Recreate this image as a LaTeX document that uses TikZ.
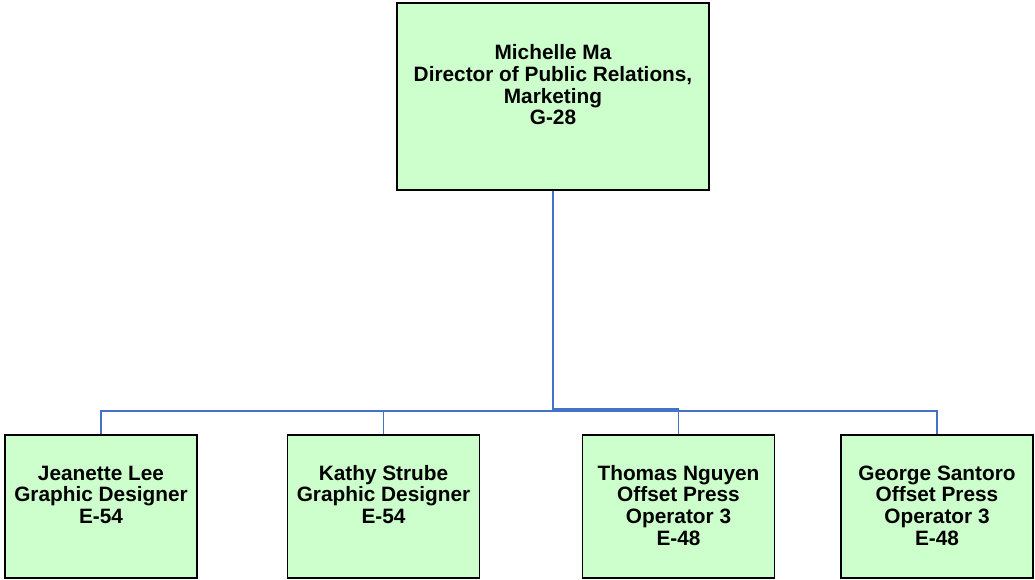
\documentclass[tikz,border=0pt]{standalone}
\usepackage{fontspec}
\setmainfont{Liberation Sans}
\usetikzlibrary{positioning}

\definecolor{postgreen}{RGB}{204,255,204}
\definecolor{linkblue}{RGB}{68,114,196}
\tikzset{
  post/.style={draw, line width=1.6pt, fill=postgreen, align=center, inner sep=0pt,
    font=\bfseries\fontsize{20.8}{21.8}\selectfont},
  small post/.style={post, minimum width=192pt},
  % base sits on the last line, so height and depth follow the line count
  three lines/.style={small post, text height=88.6pt, text depth=54.4pt},
  four lines/.style={small post, text height=110.4pt, text depth=32.6pt},
  link/.style={draw=linkblue, line width=1.8pt}
}

\begin{document}
\begin{tikzpicture}[x=1pt,y=-1pt]
\useasboundingbox (0,0) rectangle (1035,580);
\node[post, minimum width=312pt, text height=121.9pt, text depth=65.1pt] (ma) at (553,96.5)
  {Michelle Ma\\Director of Public Relations,\\Marketing\\G-28};
\node[three lines] (lee) at (101,506.5) {Jeanette Lee\\Graphic Designer\\E-54};
\node[three lines] (strube) at (383.5,506.5) {Kathy Strube\\Graphic Designer\\E-54};
\node[four lines] (nguyen) at (678.5,506.5) {Thomas Nguyen\\Offset Press\\Operator 3\\E-48};
\node[four lines] (santoro) at (937,506.5) {George Santoro\\Offset Press\\Operator 3\\E-48};
% connectors
\coordinate (fork) at (553,411);
\draw[link] (ma.south) -- (fork);
\foreach \n in {lee,strube,santoro}
  \draw[link] (fork) -| (\n.north);
\draw[link] ([yshift=2pt]fork) -| (nguyen.north);
\end{tikzpicture}
\end{document}
